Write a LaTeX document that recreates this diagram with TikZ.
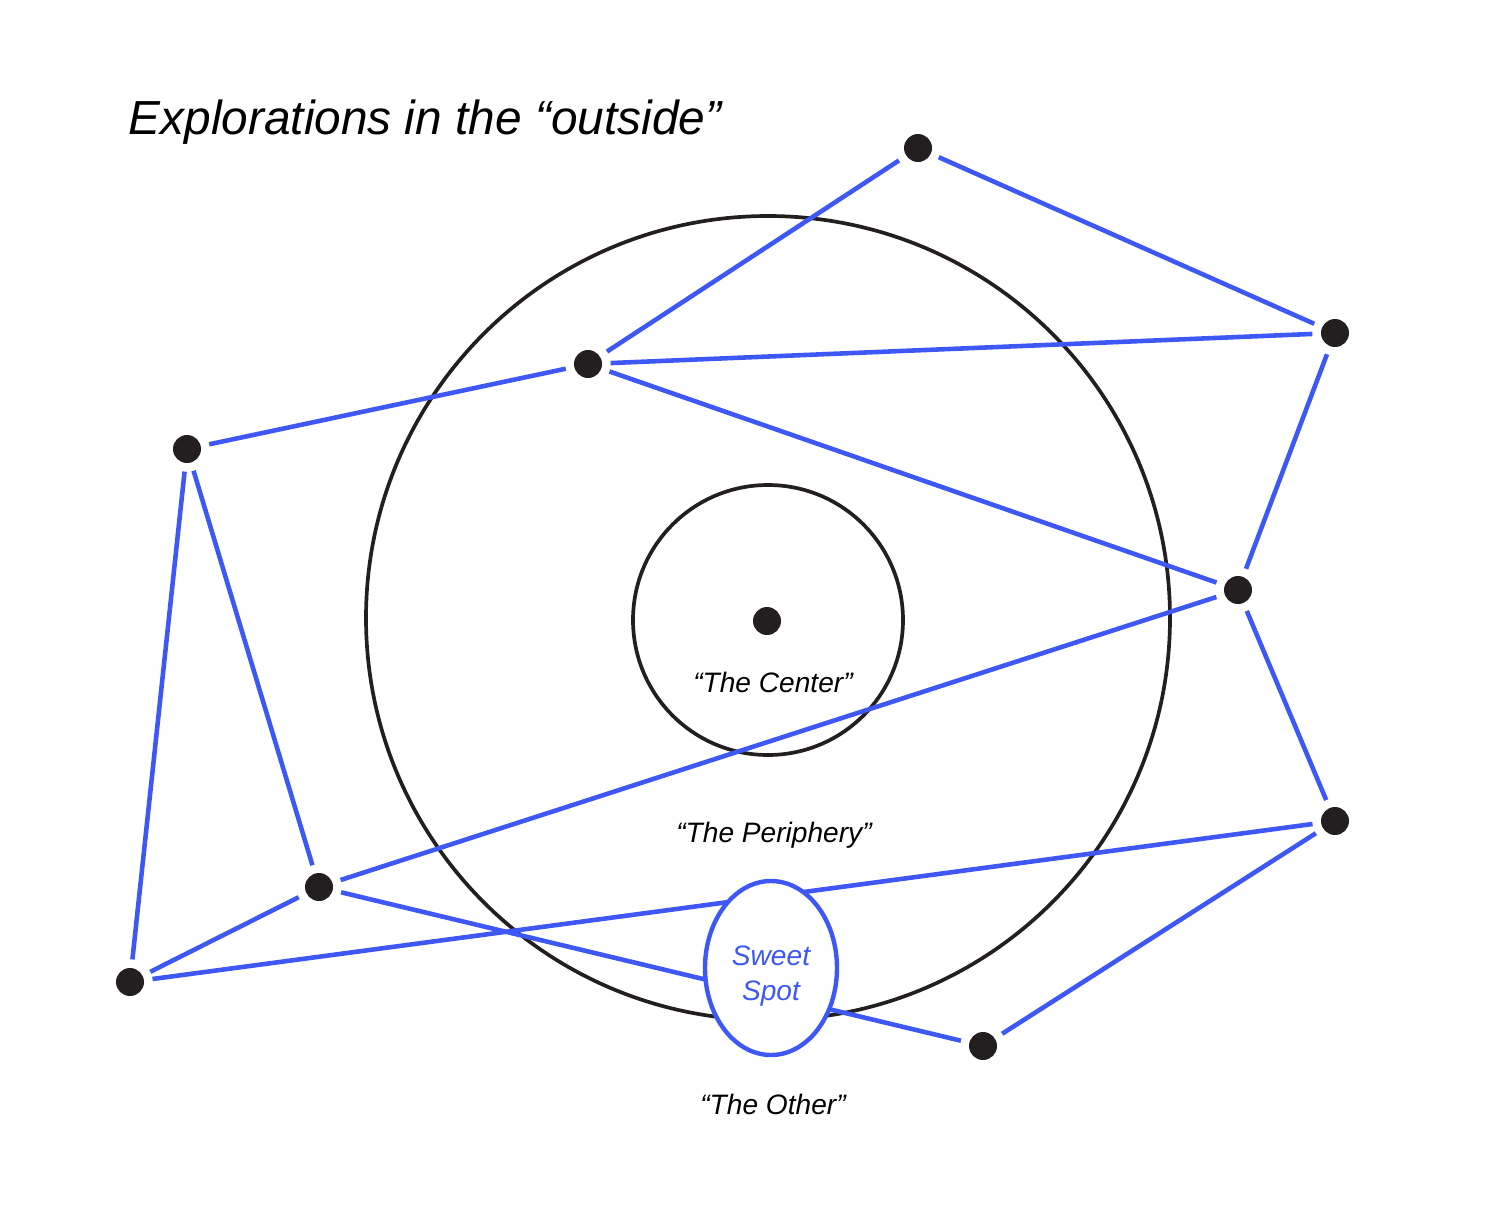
\documentclass[tikz,border=0pt]{standalone}
\usepackage{fontspec}
\setmainfont{Liberation Sans}
\usetikzlibrary{shapes.geometric}
\definecolor{linkblue}{RGB}{62,88,246}
\definecolor{inkblack}{RGB}{35,31,32}
\tikzset{
    dot/.style={circle, fill=inkblack, inner sep=0pt, minimum size=0.28cm},
    link/.style={linkblue, line width=1.3pt, shorten >=0.08cm, shorten <=0.08cm},
    ring/.style={inkblack, line width=1.05pt},
    tag/.style={font=\fontsize{8}{10}\selectfont\itshape, inner sep=0pt, anchor=base}
}

\begin{document}
\begin{tikzpicture}
    \useasboundingbox (0, 0) rectangle (14.86, 12.08);

    % Title
    \node[anchor=base west, inner sep=0pt, font=\fontsize{13.6}{16}\selectfont\itshape]
        (title) at (1.28, 10.74) {Explorations in the “outside”};

    % Circles
    \draw[ring] (7.68, 5.90) circle (4.02);
    \draw[ring] (7.68, 5.88) circle (1.35);

    % Points
    \node[dot] (core) at (7.67, 5.87) {};
    \node[dot] (top) at (9.18, 10.60) {};
    \node[dot] (topright) at (13.35, 8.75) {};
    \node[dot] (upper) at (5.88, 8.44) {};
    \node[dot] (farleft) at (1.87, 7.59) {};
    \node[dot] (right) at (12.38, 6.18) {};
    \node[dot] (lowright) at (13.35, 3.87) {};
    \node[dot] (lowleft) at (3.19, 3.21) {};
    \node[dot] (corner) at (1.30, 2.26) {};
    \node[dot] (bottom) at (9.83, 1.62) {};

    % Paths outside
    \foreach \a/\b in {top/topright, top/upper, upper/topright, upper/farleft,
                       upper/right, topright/right, right/lowright, right/lowleft,
                       lowright/corner, lowright/bottom, farleft/lowleft,
                       farleft/corner, lowleft/corner, lowleft/bottom} {
        \draw[link] (\a) -- (\b);
    }

    % Sweet spot
    \node[ellipse, draw=linkblue, line width=1.25pt, fill=white, inner sep=0pt,
          minimum width=1.32cm, minimum height=1.74cm] (sweet) at (7.71, 2.40) {};
    \node[align=center, inner sep=0pt, text=linkblue, font=\fontsize{8}{10}\selectfont\itshape]
        (sweettext) at ([yshift=-0.08cm]sweet.center) {Sweet\\Spot};

    % Labels
    \node[tag] (centerlabel) at (7.73, 5.16) {“The Center”};
    \node[tag] (periphlabel) at (7.74, 3.66) {“The Periphery”};
    \node[tag] (otherlabel) at (7.73, 0.94) {“The Other”};
\end{tikzpicture}
\end{document}
